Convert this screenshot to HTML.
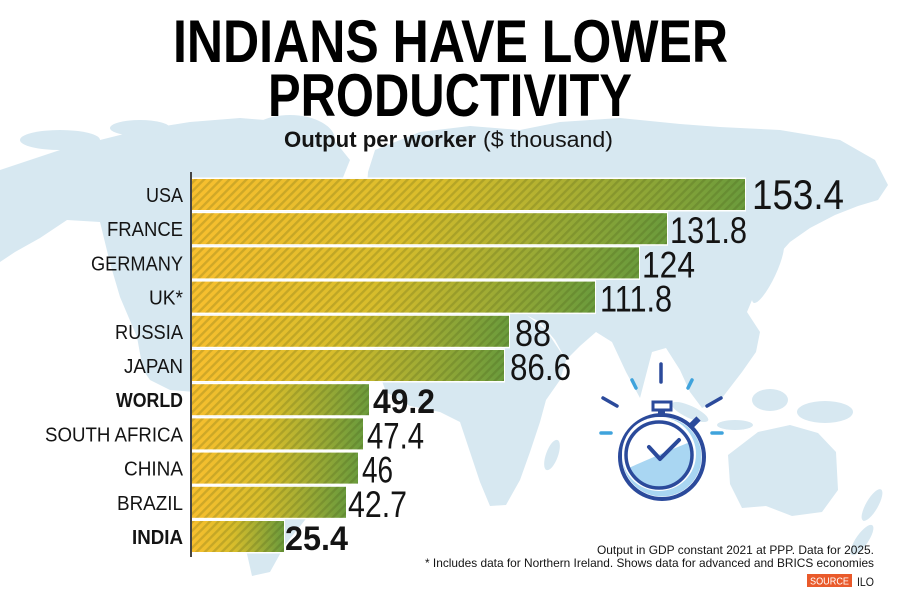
<!DOCTYPE html>
<html>
<head>
<meta charset="utf-8">
<style>
html,body{margin:0;padding:0;background:#fff;}
svg{display:block;}
text{font-family:"Liberation Sans Narrow","Liberation Sans",sans-serif;fill:#141414;}
</style>
</head>
<body>
<svg width="900" height="600" viewBox="0 0 900 600" xmlns="http://www.w3.org/2000/svg">
<defs>
  <linearGradient id="g" x1="0" y1="0" x2="1" y2="0">
    <stop offset="0" stop-color="#f8bf2e"/>
    <stop offset="0.45" stop-color="#d8bd2b"/>
    <stop offset="1" stop-color="#6b9b3c"/>
  </linearGradient>
  <pattern id="st" width="6" height="6" patternUnits="userSpaceOnUse" patternTransform="rotate(45)">
    <rect x="0" y="0" width="2.4" height="6" fill="#3c4a10" fill-opacity="0.2"/>
  </pattern>
  <clipPath id="inner"><circle cx="659" cy="455" r="32"/></clipPath>
</defs>

<!-- world map background -->
<g fill="#d7e8f1">
  <path d="M0,170 L30,160 L60,150 L100,140 L140,130 L190,122 L240,118 L290,122 L330,135 L350,160 L340,185 L325,200 L315,225 L300,250 L285,280 L270,310 L255,340 L240,365 L220,385 L195,392 L170,390 L150,380 L143,370 L137,337 L120,297 L110,263 L100,222 L67,220 L40,238 L15,252 L0,262 Z"/>
  <ellipse cx="290" cy="140" rx="45" ry="25"/>
  <ellipse cx="60" cy="140" rx="40" ry="10"/>
  <ellipse cx="140" cy="128" rx="30" ry="8"/>
  <path d="M195,392 L240,395 L280,410 L320,430 L340,455 L330,490 L305,520 L285,545 L270,572 L252,576 L245,545 L230,505 L212,465 L198,425 Z"/>
  <path d="M375,150 L420,132 L470,126 L520,130 L560,122 L620,118 L680,124 L720,127 L780,130 L840,140 L875,160 L888,185 L878,200 L858,206 L835,215 L810,228 L790,242 L772,262 L757,288 L747,312 L760,332 L756,352 L742,372 L722,398 L702,408 L690,392 L680,370 L666,348 L652,352 L640,398 L626,372 L612,342 L596,332 L580,346 L566,360 L555,340 L540,322 L520,312 L500,306 L470,302 L440,306 L410,300 L390,290 L378,268 L370,240 L366,200 L368,172 Z"/>
  <path d="M378,312 L420,300 L470,304 L520,310 L546,330 L566,360 L560,380 L546,400 L540,422 L530,452 L520,480 L506,505 L490,506 L480,482 L470,452 L460,422 L440,412 L410,406 L386,392 L375,362 L372,332 Z"/>
  <ellipse cx="552" cy="455" rx="6" ry="16" transform="rotate(20 552 455)"/>
  <ellipse cx="768" cy="272" rx="8" ry="34" transform="rotate(25 768 272)"/>
  <ellipse cx="690" cy="412" rx="20" ry="6" transform="rotate(25 690 412)"/>
  <ellipse cx="735" cy="425" rx="18" ry="5"/>
  <ellipse cx="770" cy="400" rx="18" ry="11"/>
  <ellipse cx="825" cy="412" rx="28" ry="11"/>
  <path d="M728,455 L758,432 L790,425 L818,433 L836,452 L838,490 L822,512 L792,516 L766,506 L742,508 L730,484 Z"/>
  <ellipse cx="872" cy="505" rx="6" ry="18" transform="rotate(30 872 505)"/>
  <ellipse cx="862" cy="540" rx="6" ry="18" transform="rotate(35 862 540)"/>
</g>

<!-- Title -->
<text x="173" y="62" font-size="60" font-weight="bold" textLength="555" lengthAdjust="spacingAndGlyphs" style="fill:#000">INDIANS HAVE LOWER</text>
<text x="268" y="116" font-size="60" font-weight="bold" textLength="364" lengthAdjust="spacingAndGlyphs" style="fill:#000">PRODUCTIVITY</text>
<text x="284" y="147" font-size="22" font-weight="bold" textLength="192" lengthAdjust="spacingAndGlyphs">Output per worker</text>
<text x="483" y="147" font-size="22" textLength="130" lengthAdjust="spacingAndGlyphs">($ thousand)</text>

<!-- Bars -->
<g fill="#fff">
  <rect x="192" y="177.5" width="554" height="34"/>
  <rect x="192" y="211.7" width="476" height="34"/>
  <rect x="192" y="245.9" width="448" height="34"/>
  <rect x="192" y="280.1" width="404" height="34"/>
  <rect x="192" y="314.3" width="318" height="34"/>
  <rect x="192" y="348.5" width="313" height="34"/>
  <rect x="192" y="382.7" width="178" height="34"/>
  <rect x="192" y="416.9" width="172" height="34"/>
  <rect x="192" y="451.1" width="167" height="34"/>
  <rect x="192" y="485.3" width="155" height="34"/>
  <rect x="192" y="519.5" width="93" height="34"/>
</g>
<g>
  <rect x="192" y="179" width="553" height="31" fill="url(#g)"/>
  <rect x="192" y="213.2" width="475" height="31" fill="url(#g)"/>
  <rect x="192" y="247.4" width="447" height="31" fill="url(#g)"/>
  <rect x="192" y="281.6" width="403" height="31" fill="url(#g)"/>
  <rect x="192" y="315.8" width="317" height="31" fill="url(#g)"/>
  <rect x="192" y="350" width="312" height="31" fill="url(#g)"/>
  <rect x="192" y="384.2" width="177" height="31" fill="url(#g)"/>
  <rect x="192" y="418.4" width="171" height="31" fill="url(#g)"/>
  <rect x="192" y="452.6" width="166" height="31" fill="url(#g)"/>
  <rect x="192" y="486.8" width="154" height="31" fill="url(#g)"/>
  <rect x="192" y="521" width="92" height="31" fill="url(#g)"/>
</g>
<g fill="url(#st)">
  <rect x="192" y="179" width="553" height="31"/>
  <rect x="192" y="213.2" width="475" height="31"/>
  <rect x="192" y="247.4" width="447" height="31"/>
  <rect x="192" y="281.6" width="403" height="31"/>
  <rect x="192" y="315.8" width="317" height="31"/>
  <rect x="192" y="350" width="312" height="31"/>
  <rect x="192" y="384.2" width="177" height="31"/>
  <rect x="192" y="418.4" width="171" height="31"/>
  <rect x="192" y="452.6" width="166" height="31"/>
  <rect x="192" y="486.8" width="154" height="31"/>
  <rect x="192" y="521" width="92" height="31"/>
</g>

<!-- axis -->
<line x1="191" y1="172" x2="191" y2="557" stroke="#444" stroke-width="2"/>

<!-- Labels -->
<g font-size="20">
  <text x="146" y="202" textLength="37" lengthAdjust="spacingAndGlyphs">USA</text>
  <text x="107" y="236.2" textLength="76" lengthAdjust="spacingAndGlyphs">FRANCE</text>
  <text x="91" y="270.4" textLength="92" lengthAdjust="spacingAndGlyphs">GERMANY</text>
  <text x="149" y="304.6" textLength="34" lengthAdjust="spacingAndGlyphs">UK*</text>
  <text x="115" y="338.8" textLength="68" lengthAdjust="spacingAndGlyphs">RUSSIA</text>
  <text x="124" y="373" textLength="59" lengthAdjust="spacingAndGlyphs">JAPAN</text>
  <text x="116" y="407.2" font-weight="bold" textLength="67" lengthAdjust="spacingAndGlyphs">WORLD</text>
  <text x="45" y="441.4" textLength="138" lengthAdjust="spacingAndGlyphs">SOUTH AFRICA</text>
  <text x="124" y="475.6" textLength="59" lengthAdjust="spacingAndGlyphs">CHINA</text>
  <text x="117" y="509.8" textLength="66" lengthAdjust="spacingAndGlyphs">BRAZIL</text>
  <text x="132" y="544" font-weight="bold" textLength="51" lengthAdjust="spacingAndGlyphs">INDIA</text>
</g>

<!-- Values -->
<g font-size="37">
  <text x="752" y="209" font-size="42" textLength="92" lengthAdjust="spacingAndGlyphs">153.4</text>
  <text x="670" y="243.2" textLength="77" lengthAdjust="spacingAndGlyphs">131.8</text>
  <text x="642" y="277.4" textLength="53" lengthAdjust="spacingAndGlyphs">124</text>
  <text x="600" y="311.6" textLength="72" lengthAdjust="spacingAndGlyphs">111.8</text>
  <text x="515" y="345.8" textLength="36" lengthAdjust="spacingAndGlyphs">88</text>
  <text x="510" y="380" textLength="61" lengthAdjust="spacingAndGlyphs">86.6</text>
  <text x="373" y="413.2" font-size="34" font-weight="bold" textLength="62" lengthAdjust="spacingAndGlyphs">49.2</text>
  <text x="367" y="448.4" textLength="57" lengthAdjust="spacingAndGlyphs">47.4</text>
  <text x="362" y="482.6" textLength="31" lengthAdjust="spacingAndGlyphs">46</text>
  <text x="348" y="516.8" textLength="59" lengthAdjust="spacingAndGlyphs">42.7</text>
  <text x="285" y="550" font-size="34" font-weight="bold" textLength="63" lengthAdjust="spacingAndGlyphs">25.4</text>
</g>

<!-- Stopwatch -->
<g stroke-linecap="round" fill="none">
  <line x1="661" y1="364" x2="661" y2="382" stroke="#2b4a9b" stroke-width="3.5"/>
  <line x1="632" y1="380" x2="636" y2="388" stroke="#3fa3dc" stroke-width="3.5"/>
  <line x1="692" y1="380" x2="688" y2="388" stroke="#3fa3dc" stroke-width="3.5"/>
  <line x1="603" y1="398" x2="617" y2="406" stroke="#2b4a9b" stroke-width="3.5"/>
  <line x1="707" y1="406" x2="721" y2="398" stroke="#2b4a9b" stroke-width="3.5"/>
  <line x1="601" y1="433" x2="611" y2="433" stroke="#3fa3dc" stroke-width="3.5"/>
  <line x1="712" y1="433" x2="722" y2="433" stroke="#3fa3dc" stroke-width="3.5"/>
</g>
<rect x="658" y="409" width="7" height="6" fill="#2b4a9b"/>
<rect x="653" y="402" width="18" height="8" fill="#fff" stroke="#2b4a9b" stroke-width="3"/>
<rect x="692" y="417" width="6" height="10" fill="#2b4a9b" transform="rotate(45 695 422)"/>
<circle cx="662" cy="457" r="42" fill="#fff" stroke="#2b4a9b" stroke-width="4"/>
<circle cx="662" cy="457" r="39.5" fill="#a9d6f2"/>
<circle cx="659" cy="454" r="37" fill="#fff"/>
<g clip-path="url(#inner)">
  <path d="M620,472 Q650,458 700,438 L700,500 L620,500 Z" fill="#a9d6f2"/>
</g>
<circle cx="659" cy="455" r="33" fill="none" stroke="#2b4a9b" stroke-width="3.5"/>
<polyline points="649,447 660,459 679,440" fill="none" stroke="#2b4a9b" stroke-width="4" stroke-linecap="round" stroke-linejoin="round"/>

<!-- Footnotes -->
<text x="597" y="554" font-size="12" textLength="277" lengthAdjust="spacingAndGlyphs">Output in GDP constant 2021 at PPP. Data for 2025.</text>
<text x="425" y="567" font-size="12" textLength="449" lengthAdjust="spacingAndGlyphs">* Includes data for Northern Ireland. Shows data for advanced and BRICS economies</text>
<rect x="807" y="574" width="45" height="13" fill="#e95a2b"/>
<text x="810" y="584.5" font-size="10" textLength="39" lengthAdjust="spacingAndGlyphs" style="fill:#fff">SOURCE</text>
<text x="857" y="586" font-size="12" textLength="17" lengthAdjust="spacingAndGlyphs">ILO</text>
</svg>
</body>
</html>
